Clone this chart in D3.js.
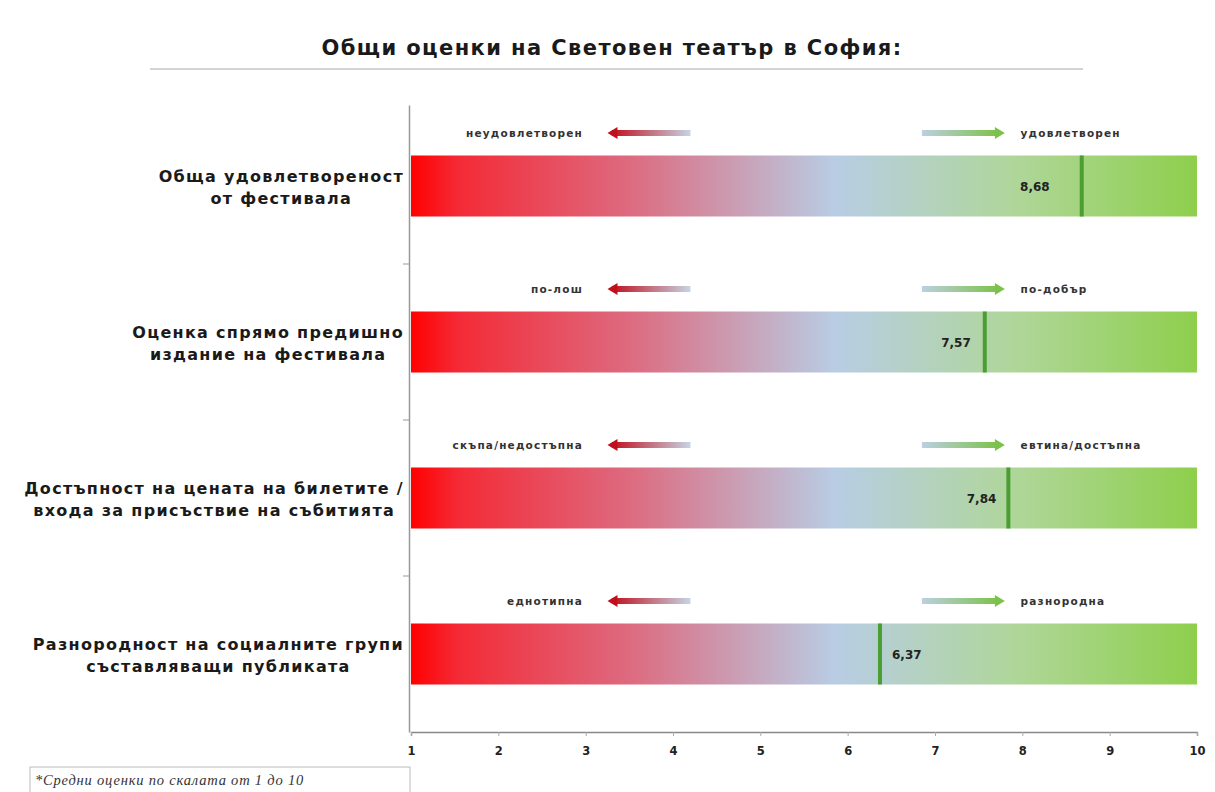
<!DOCTYPE html>
<html><head><meta charset="utf-8">
<script src="https://cdn.jsdelivr.net/npm/d3@7"></script>
<style>body{margin:0;background:#fff;}svg{display:block;}</style>
</head><body>
<svg id="c" width="1215" height="792"></svg>
<script>
const title = "Общи оценки на Световен театър в София:";
const categories = [
  ["Обща удовлетвореност", "от фестивала"],
  ["Оценка спрямо предишно", "издание на фестивала"],
  ["Достъпност на цената на билетите /", "входа за присъствие на събитията"],
  ["Разнородност на социалните групи", "съставляващи публиката"]
];
const values = [8.68, 7.57, 7.84, 6.37];
const valueLabels = ["8,68", "7,57", "7,84", "6,37"];
const leftLabels = ["неудовлетворен", "по-лош", "скъпа/недостъпна", "еднотипна"];
const rightLabels = ["удовлетворен", "по-добър", "евтина/достъпна", "разнородна"];
const ticks = [1,2,3,4,5,6,7,8,9,10];
const footnote = "*Средни оценки по скалата от 1 до 10";

const svg = d3.select("#c");
const defs = svg.append("defs");
const x = d3.scaleLinear().domain([1,10]).range([411,1197]);
const y = d3.scaleBand().domain(d3.range(categories.length)).range([108,732]);
const barH = 61;
const FONT = "'DejaVu Sans', sans-serif";
const labelOffset = [-32, -14, -12, 12];

const g = defs.append("linearGradient").attr("id","barGrad").attr("gradientUnits","userSpaceOnUse")
  .attr("x1",x(1)).attr("x2",x(10)).attr("y1",0).attr("y2",0);
[[0,"#ff0000"],[0.06,"#f42a36"],[0.28,"#dd6b80"],[0.54,"#b8cde4"],[0.77,"#afd699"],[1,"#8ecf4c"]]
  .forEach(([o,c])=>g.append("stop").attr("offset",o).attr("stop-color",c));
const la = defs.append("linearGradient").attr("id","leftArr").attr("x1",0).attr("x2",1);
la.append("stop").attr("offset",0).attr("stop-color","#c0101e");
la.append("stop").attr("offset",1).attr("stop-color","#c6d4e4");
const ra = defs.append("linearGradient").attr("id","rightArr").attr("x1",0).attr("x2",1);
ra.append("stop").attr("offset",0).attr("stop-color","#bccfe0");
ra.append("stop").attr("offset",1).attr("stop-color","#7cc24a");

// title
svg.append("text").attr("x",612).attr("y",55).attr("text-anchor","middle")
  .attr("font-family",FONT).attr("font-weight","bold").attr("font-size",21)
  .attr("letter-spacing",1.4).attr("fill","#1a1a1a").text(title);
svg.append("line").attr("x1",150).attr("x2",1083).attr("y1",69).attr("y2",69)
  .attr("stroke","#d4d4d4").attr("stroke-width",2);

// bars
const rows = svg.append("g").selectAll("g").data(values).join("g");
rows.append("rect").attr("x",x(1)).attr("width",x(10)-x(1))
  .attr("y",(d,i)=>y(i)+y.bandwidth()/2-barH/2).attr("height",barH).attr("fill","url(#barGrad)");
rows.append("rect").attr("x",d=>x(d)-2).attr("width",4)
  .attr("y",(d,i)=>y(i)+y.bandwidth()/2-barH/2).attr("height",barH).attr("fill","#4a9e32");
rows.append("text").attr("x",(d,i)=> x(d)+labelOffset[i])
  .attr("text-anchor",(d,i)=> labelOffset[i] > 0 ? "start":"end")
  .attr("y",(d,i)=>y(i)+y.bandwidth()/2+5)
  .attr("font-family",FONT).attr("font-weight","bold").attr("font-size",12)
  .attr("fill","#222").text((d,i)=>valueLabels[i]);

// annotations
const annY = i => y(i)+25;
const ann = svg.append("g").selectAll("g").data(values).join("g");
ann.append("text").attr("x",x(2.97)).attr("y",(d,i)=>annY(i)+4).attr("text-anchor","end")
  .attr("font-family",FONT).attr("font-weight","bold").attr("font-size",10.5).attr("letter-spacing",1.2)
  .attr("fill","#333").text((d,i)=>leftLabels[i]);
ann.append("text").attr("x",x(7.98)).attr("y",(d,i)=>annY(i)+4).attr("text-anchor","start")
  .attr("font-family",FONT).attr("font-weight","bold").attr("font-size",10.5).attr("letter-spacing",1.2)
  .attr("fill","#333").text((d,i)=>rightLabels[i]);
// left arrows
ann.append("rect").attr("x",x(3.3)).attr("width",x(4.2)-x(3.3)).attr("y",(d,i)=>annY(i)-3).attr("height",6)
  .attr("fill","url(#leftArr)");
ann.append("path").attr("d",(d,i)=>{const a=x(3.25),b=annY(i);return `M${a},${b} L${a+10},${b-6} L${a+10},${b+6} Z`;})
  .attr("fill","#c0101e");
// right arrows
ann.append("rect").attr("x",x(6.85)).attr("width",x(7.72)-x(6.85)).attr("y",(d,i)=>annY(i)-3).attr("height",6)
  .attr("fill","url(#rightArr)");
ann.append("path").attr("d",(d,i)=>{const a=x(7.8),b=annY(i);return `M${a},${b} L${a-10},${b-6} L${a-10},${b+6} Z`;})
  .attr("fill","#7cc24a");

// category labels
const cat = svg.append("g").attr("font-family",FONT).attr("font-weight","bold")
  .attr("font-size",16).attr("letter-spacing",1.3).attr("fill","#1a1a1a");
categories.forEach((lines,i)=>{
  const t = cat.append("text").attr("y",y(i)+y.bandwidth()/2-4);
  const spans = lines.map((s,k)=>t.append("tspan").attr("dy",k===0?0:22).text(s));
  const w = d3.max(spans,s=>s.node().getComputedTextLength());
  const cx = 404 - w/2;
  t.attr("text-anchor","middle");
  spans.forEach(s=>s.attr("x",cx));
});

// axes
const xa = svg.append("g").attr("transform","translate(0,732)")
  .call(d3.axisBottom(x).tickValues(ticks).tickSize(4).tickFormat(d3.format("d")));
xa.select(".domain").attr("stroke","#888").attr("stroke-width",1.5);
xa.selectAll(".tick line").attr("stroke","#aaa");
xa.selectAll("text").attr("font-family",FONT).attr("font-weight","bold")
  .attr("font-size",11.5).attr("fill","#222").attr("dy","1.4em");
const ya = svg.append("g").attr("transform","translate(409,0)")
  .call(d3.axisLeft(d3.scaleLinear().domain([0,4]).range([105,732])).tickValues([]).tickSizeOuter(0));
ya.select(".domain").attr("stroke","#999").attr("stroke-width",1.5);
[1,2,3].forEach(i=>svg.append("line").attr("x1",403).attr("x2",409).attr("y1",y(i)).attr("y2",y(i))
  .attr("stroke","#999"));

// footnote
svg.append("rect").attr("x",30).attr("y",767).attr("width",380).attr("height",40)
  .attr("fill","none").attr("stroke","#bbb");
svg.append("text").attr("x",35).attr("y",785).attr("font-family","'Liberation Serif', serif")
  .attr("font-style","italic").attr("font-size",14.5).attr("letter-spacing",0.8).attr("fill","#333").text(footnote);
</script>
</body></html>
